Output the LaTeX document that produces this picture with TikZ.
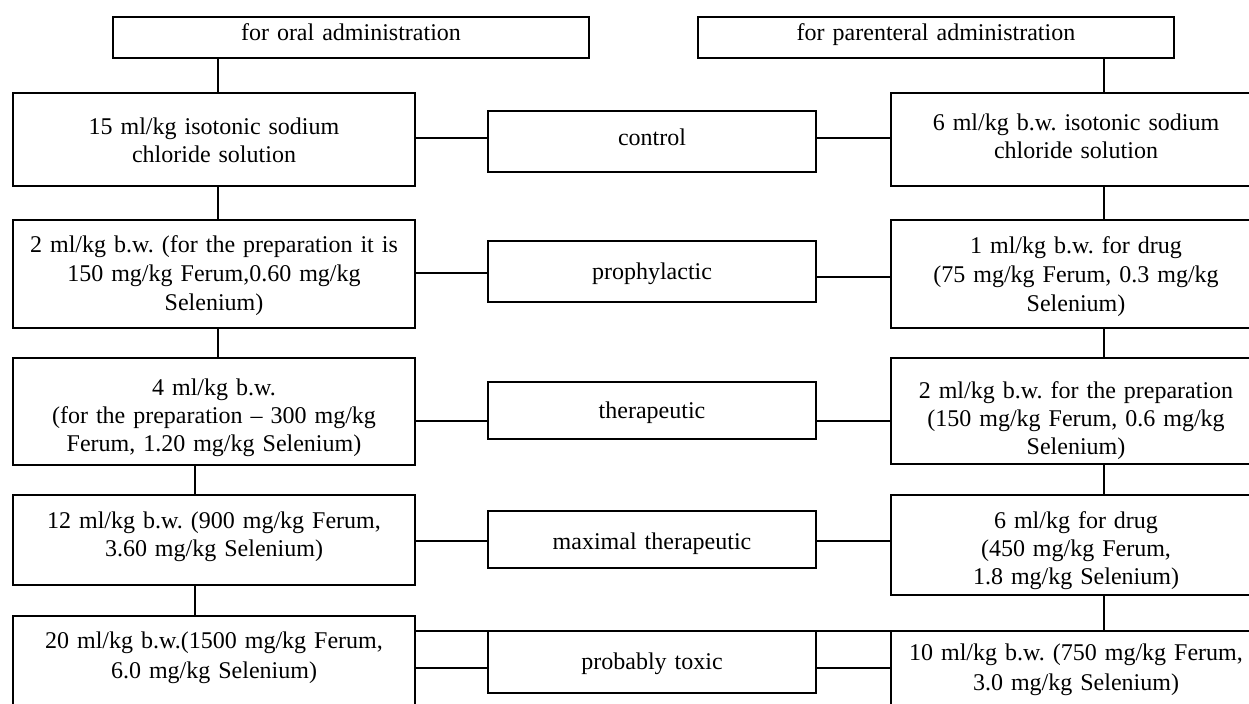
\documentclass[tikz,border=0pt]{standalone}
\usepackage{fontspec}
\setmainfont{Liberation Serif}
\frenchspacing
\begin{document}
\begin{tikzpicture}[x=0.5pt,y=-0.5pt,
  box/.style={draw, line width=1pt, inner sep=0pt, outer sep=0pt, anchor=north west,
    align=center, font=\fontsize{12}{14}\selectfont\frenchspacing},
  wideskip/.style={font=\fontsize{12}{15}\selectfont\frenchspacing},
  midskip/.style={font=\fontsize{12}{14.5}\selectfont\frenchspacing},
  lbox/.style={box, text width=201pt},
  mbox/.style={box, text width=164pt},
  rbox/.style={box, text width=185pt},
  lnk/.style={line width=1pt}]
\useasboundingbox (0,0) rectangle (1249,704);
\fill[white] (0,0) rectangle (1249,704);
\clip (0,0) rectangle (1249,704);

% header boxes
\node[box, text width=238pt, text height=12pt, text depth=8.5pt] (oral) at (113,17) {for oral administration};
\node[box, text width=238pt, text height=12pt, text depth=8.5pt] (par) at (698,17) {for parenteral administration};

% row 1
\node[lbox, text height=21pt, text depth=25.5pt] (L1) at (13,93) {15 ml/kg isotonic sodium\\chloride solution};
\node[mbox, text height=17.5pt, text depth=13pt] (M1) at (488,111) {control};
\node[rbox, text height=19pt, text depth=27.5pt] (R1) at (891,93) {6 ml/kg b.w. isotonic sodium\\chloride solution};

% row 2
\node[lbox, midskip, text height=16.5pt, text depth=37.5pt] (L2) at (13,220) {2 ml/kg b.w. (for the preparation it is\\150 mg/kg Ferum,0.60 mg/kg\\Selenium)};
\node[mbox, text height=19.5pt, text depth=11pt] (M2) at (488,241) {prophylactic};
\node[rbox, midskip, text height=17pt, text depth=37pt] (R2) at (891,220) {1 ml/kg b.w. for drug\\(75 mg/kg Ferum, 0.3 mg/kg\\Selenium)};

% row 3
\node[lbox, text height=19pt, text depth=34.5pt] (L3) at (13,358) {4 ml/kg b.w.\\(for the preparation – 300 mg/kg\\Ferum, 1.20 mg/kg Selenium)};
\node[mbox, text height=18.5pt, text depth=10pt] (M3) at (488,382) {therapeutic};
\node[rbox, text height=20.5pt, text depth=32.5pt] (R3) at (891,358) {2 ml/kg b.w. for the preparation\\(150 mg/kg Ferum, 0.6 mg/kg\\Selenium)};

% row 4
\node[lbox, text height=17pt, text depth=28pt] (L4) at (13,495) {12 ml/kg b.w. (900 mg/kg Ferum,\\3.60 mg/kg Selenium)};
\node[mbox, text height=19.5pt, text depth=9pt] (M4) at (488,511) {maximal therapeutic};
\node[rbox, text height=17pt, text depth=33pt] (R4) at (891,495) {6 ml/kg for drug\\(450 mg/kg Ferum,\\1.8 mg/kg Selenium)};

% row 5
\node[lbox, wideskip, text height=16.5pt, text depth=60pt] (L5) at (13,616) {20 ml/kg b.w.(1500 mg/kg Ferum,\\6.0 mg/kg Selenium)};
\node[mbox, text height=19.5pt, text depth=11.5pt] (M5) at (488,631) {probably toxic};
\node[rbox, wideskip, text height=15pt, text depth=60pt] (R5) at (891,631) {10 ml/kg b.w. (750 mg/kg Ferum,\\3.0 mg/kg Selenium)};

% connector guide coordinates
\coordinate (xa) at (218,0);
\coordinate (xb) at (195,0);
\coordinate (xc) at (1104,0);
\coordinate (ya) at (0,138);
\coordinate (yb1) at (0,273);
\coordinate (yb2) at (0,277);
\coordinate (yc) at (0,421);
\coordinate (yd) at (0,541);
\coordinate (ye) at (0,668);

% vertical connectors, left column
\draw[lnk] (oral.south -| xa) -- (L1.north -| xa);
\draw[lnk] (L1.south -| xa) -- (L2.north -| xa);
\draw[lnk] (L2.south -| xa) -- (L3.north -| xa);
\draw[lnk] (L3.south -| xb) -- (L4.north -| xb);
\draw[lnk] (L4.south -| xb) -- (L5.north -| xb);

% vertical connectors, right column
\draw[lnk] (par.south -| xc) -- (R1.north -| xc);
\draw[lnk] (R1.south -| xc) -- (R2.north -| xc);
\draw[lnk] (R2.south -| xc) -- (R3.north -| xc);
\draw[lnk] (R3.south -| xc) -- (R4.north -| xc);
\draw[lnk] (R4.south -| xc) -- (R5.north -| xc);

% horizontal connectors
\draw[lnk] (L1.east |- ya) -- (M1.west |- ya);
\draw[lnk] (M1.east |- ya) -- (R1.west |- ya);
\draw[lnk] (L2.east |- yb1) -- (M2.west |- yb1);
\draw[lnk] (M2.east |- yb2) -- (R2.west |- yb2);
\draw[lnk] (L3.east |- yc) -- (M3.west |- yc);
\draw[lnk] (M3.east |- yc) -- (R3.west |- yc);
\draw[lnk] (L4.east |- yd) -- (M4.west |- yd);
\draw[lnk] (M4.east |- yd) -- (R4.west |- yd);
\draw[lnk] (L5.east |- ye) -- (M5.west |- ye);
\draw[lnk] (M5.east |- ye) -- (R5.west |- ye);
\draw[lnk] (L5.east |- M5.north) -- (M5.north west);
\draw[lnk] (M5.north east) -- (R5.north west);
\end{tikzpicture}
\end{document}
